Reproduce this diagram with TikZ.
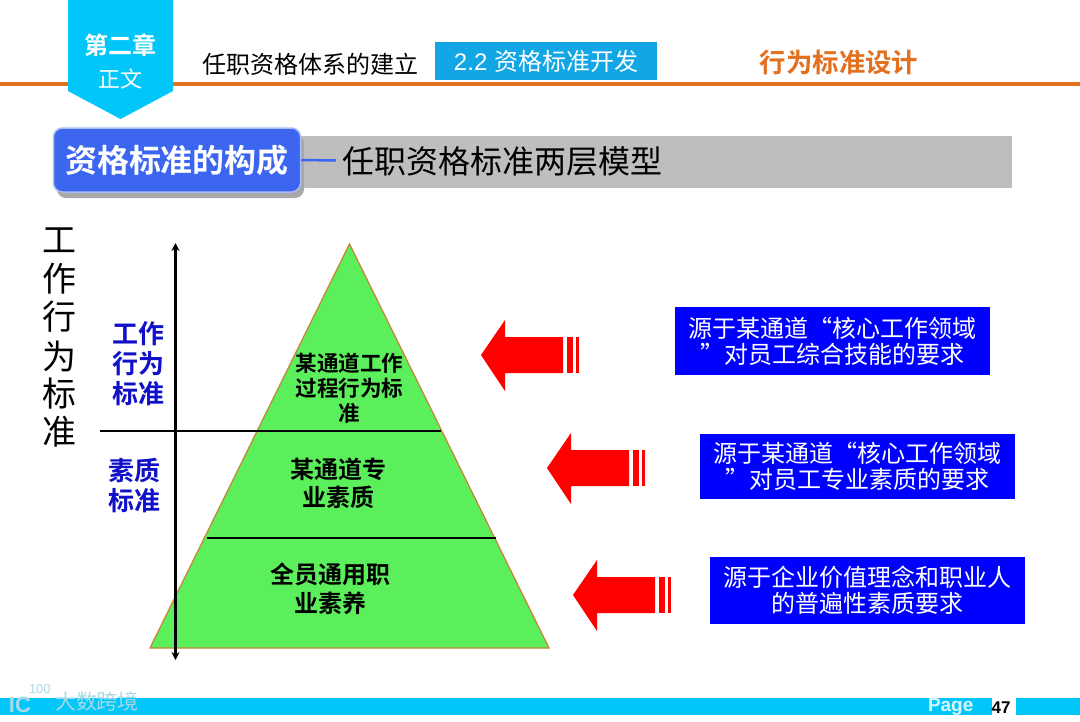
\documentclass[tikz,border=0pt]{standalone}
\usepackage{fontspec}
\usetikzlibrary{arrows.meta}
\setmainfont{Noto Sans CJK SC}[BoldFont={Noto Sans CJK SC Bold}]
\setsansfont{Liberation Sans}
\newcommand{\px}[1]{\fontsize{#1}{#1}\selectfont}
\definecolor{cyanbar}{HTML}{00C6FA}
\definecolor{orangeline}{HTML}{E2701F}
\definecolor{tabblue}{HTML}{12A6E4}
\definecolor{rolered}{HTML}{FF0000}
\definecolor{pyramid}{HTML}{5CEF5C}
\definecolor{pyredge}{HTML}{C08A3A}
\definecolor{headblue}{HTML}{3C66F0}
\definecolor{headedge}{HTML}{A9BCF5}
\definecolor{barkgray}{HTML}{BEBEBE}
\definecolor{shadowgray}{HTML}{A8A8A8}
\definecolor{sideblue}{HTML}{1010C8}
\definecolor{wmark}{HTML}{A8DAE6}
\tikzset{
  x=1pt,y=-1pt,
  lbl/.style={inner sep=0pt,outer sep=0pt,align=center},
  pyrtext/.style={lbl,font=\bfseries\px{21.6},text=black},
  pyrtextb/.style={lbl,font=\bfseries\px{24},text=black},
  sidetext/.style={lbl,font=\bfseries\px{26},text=sideblue},
  sourcebox/.style={fill=blue,text=white,minimum width=315pt,inner sep=0pt,align=center,font=\px{24}},
  redarrow/.style={fill=rolered,draw=none},
  vchar/.style={lbl,font=\px{34},text=black},
}
\newcommand{\redarr}[2]{%
  \begin{scope}[shift={(#1,#2)}]
    \fill[redarrow] (481,355) -- (505,320) -- (505,337) -- (563,337) -- (563,373) -- (505,373) -- (505,391) -- cycle;
    \fill[redarrow] (567,337) rectangle (573,373);
    \fill[redarrow] (576,337) rectangle (579,373);
  \end{scope}}
\begin{document}
\begin{tikzpicture}
\useasboundingbox (0,0) rectangle (1080,721);
\fill[white] (0,0) rectangle (1080,721);
% header
\fill[orangeline] (0,81.5) rectangle (1080,85.5);
\fill[cyanbar] (68,0) -- (173,0) -- (173,91) -- (120.5,119) -- (68,91) -- cycle;
\node[lbl,font=\bfseries\px{24},text=white] (chap) at (120,45) {第二章};
\node[lbl,font=\px{22},text=white] (zw) at (120,79) {正文};
\node[lbl,font=\px{24},text=black] (t1) at (310,64) {任职资格体系的建立};
\node[fill=tabblue,minimum width=222pt,minimum height=38pt,inner sep=0pt,text=white,font=\px{24}] (t2) at (546,61) {{\sffamily 2.2 }资格标准开发};
\node[lbl,font=\bfseries\px{26.4},text=orangeline] (t3) at (839,62) {行为标准设计};
% title bar
\fill[barkgray] (295,136) rectangle (1012,188);
\fill[shadowgray,rounded corners=9pt] (57,134) rectangle (304,198);
\node[draw=headedge,line width=1.5pt,fill=headblue,rounded corners=9pt,minimum width=247pt,minimum height=64pt,inner sep=0pt,text=white,font=\bfseries\px{32}] (head) at (177,160) {资格标准的构成};
\coordinate (dashend) at (336,160.5);
\draw[headblue,line width=2.5pt] (head.east) -- (dashend);
\node[lbl,font=\px{32},text=black,anchor=west] (sub) at (342,161) {任职资格标准两层模型};
% vertical label
\node[vchar] (v1) at (59,240) {工};
\node[vchar] (v2) at (59,279) {作};
\node[vchar] (v3) at (59,317) {行};
\node[vchar] (v4) at (59,356) {为};
\node[vchar] (v5) at (59,394) {标};
\node[vchar] (v6) at (59,432) {准};
% pyramid
\coordinate (apex) at (349.5,244);
\coordinate (bl) at (150,648);
\coordinate (br) at (549,648);
\draw[fill=pyramid,draw=pyredge,line width=1.3pt,line join=miter] (apex) -- (br) -- (bl) -- cycle;
\coordinate (l1a) at (100,431);
\coordinate (l1b) at (441,431);
\coordinate (l2a) at (207,538);
\coordinate (l2b) at (496,538);
\draw[black,line width=1.8pt] (l1a) -- (l1b);
\draw[black,line width=1.8pt] (l2a) -- (l2b);
\coordinate (axT) at (175.5,243);
\coordinate (axB) at (175.5,660);
\draw[black,line width=2.2pt,{Stealth[length=8pt,width=8pt]}-{Stealth[length=8pt,width=8pt]}] (axT) -- (axB);
\node[pyrtext] (p1) at (349.5,388) {某通道工作\\[3.5pt]过程行为标\\[3.5pt]准};
\node[pyrtextb] (p2) at (338.5,483) {某通道专\\[4pt]业素质};
\node[pyrtextb] (p3) at (330.5,588.5) {全员通用职\\[5pt]业素养};
\node[sidetext] (s1) at (138,364) {工作\\[4pt]行为\\[4pt]标准};
\node[sidetext] (s2) at (134,486) {素质\\[4pt]标准};
% arrows
\redarr{0}{0}
\redarr{66}{113}
\redarr{92}{240}
% source boxes
\node[sourcebox,minimum height=68pt] (b1) at (832.5,341) {源于某通道“核心工作领域\\[2pt]”对员工综合技能的要求};
\node[sourcebox,minimum height=65pt] (b2) at (857.5,466.5) {源于某通道“核心工作领域\\[2pt]”对员工专业素质的要求};
\node[sourcebox,minimum height=67pt] (b3) at (867.5,590.5) {源于企业价值理念和职业人\\[2pt]的普遍性素质要求};
% footer
\fill[cyanbar] (0,698) rectangle (992,714.5);
\fill[cyanbar] (1016,698) rectangle (1080,714.5);
\node[lbl,font=\sffamily\bfseries\px{19},text=white,opacity=.85,anchor=west] (pg) at (928,706.5) {Page};
\node[lbl,font=\sffamily\bfseries\px{17},text=black] (num) at (1001,708) {47};
% watermark
\node[lbl,font=\sffamily\bfseries\px{22},text=wmark,anchor=west] (wm1) at (9,705) {IC};
\node[lbl,font=\sffamily\px{13},text=wmark,anchor=west] (wm2) at (29,689) {100};
\node[lbl,font=\px{21},text=wmark,anchor=west] (wm3) at (55,701) {大数跨境};
\end{tikzpicture}
\end{document}
